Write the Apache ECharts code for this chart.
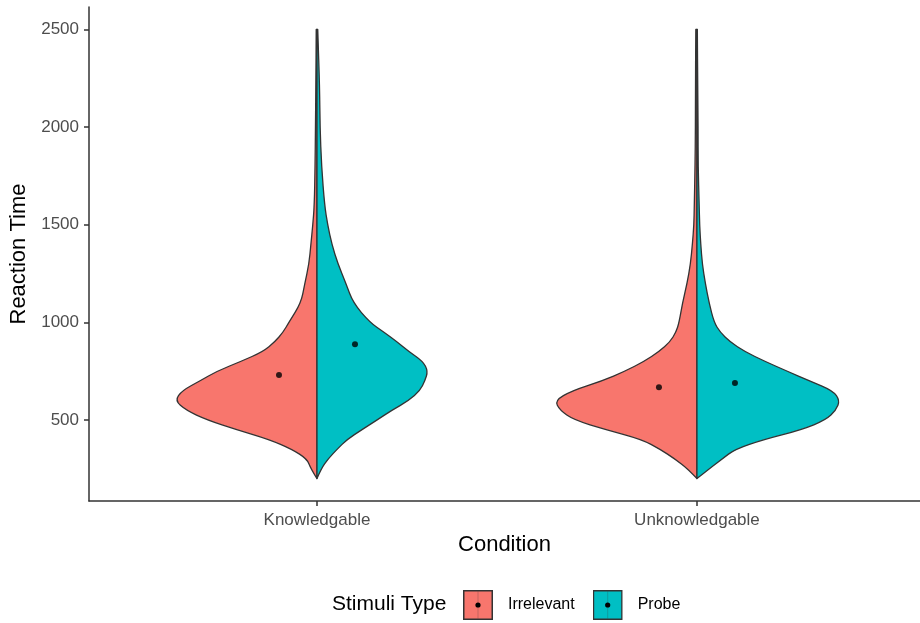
<!DOCTYPE html>
<html><head><meta charset="utf-8">
<script src="https://cdn.jsdelivr.net/npm/echarts@6/dist/echarts.min.js"></script>
<style>html,body{margin:0;padding:0;background:#fff}#c{width:920px;height:623px}</style>
</head><body><div id="c"></div><script>
// ---- data ----
const categories = ['Knowledgable', 'Unknowledgable'];
const stimuli = ['Irrelevant', 'Probe'];
const yTicks = [500, 1000, 1500, 2000, 2500];
// reaction-time grid at which the density half-widths are read
const rtGrid = [200, 250, 300, 350, 400, 450, 500, 550, 600, 650, 700, 750, 800, 850, 900, 950, 1000, 1100, 1200, 1300, 1400, 1500, 1600, 1800, 2000, 2200, 2500];
// half-widths (x-axis units) per condition
const irrelevantKnow = [0, .016, .026, .066, .126, .211, .289, .345, .374, .355, .308, .263, .200, .142, .111, .089, .074, .042, .032, .021, .016, .011, .007, .005, .004, .003, .002];
const irrelevantUnknow = [0, .024, .058, .097, .145, .239, .324, .361, .374, .329, .250, .189, .139, .100, .071, .055, .047, .038, .026, .017, .012, .008, .007, .005, .004, .004, .003];
const probeKnow = [0, .011, .029, .053, .079, .118, .158, .197, .242, .271, .284, .292, .279, .242, .211, .176, .139, .095, .076, .055, .039, .028, .020, .012, .008, .007, .002];
const probeUnknow = [0, .032, .066, .100, .176, .276, .339, .366, .376, .358, .297, .237, .179, .126, .087, .061, .045, .032, .022, .014, .010, .007, .006, .003, .003, .002, .001];
const irrelevantMeans = [730, 668];
const probeMeans = [888, 689];

// ---- rendering ----
const FONT = '"Liberation Sans", Arial, Helvetica, sans-serif';
const RED = '#F8766D', TEAL = '#00BFC4', OUTLINE = '#333333';
const chart = echarts.init(document.getElementById('c'), null, { renderer: 'canvas' });

function violinSeries(name, dens, side, color) {
  return {
    type: 'custom', name: name, coordinateSystem: 'cartesian2d',
    data: categories.map((c, i) => [i + 1, rtGrid[0]]),
    encode: { x: 0, y: 1 },
    itemStyle: { color: color },
    clip: false,
    renderItem: function (params, api) {
      const ci = params.dataIndex;
      const w = dens[ci];
      const cx = ci + 1;
      const pts = rtGrid.map((rt, k) => api.coord([cx + side * w[k], rt]));
      const c0 = api.coord([cx, rtGrid[0]]);
      const c1 = api.coord([cx, rtGrid[rtGrid.length - 1]]);
      let d = 'M' + c0[0] + ',' + c0[1] + ' L' + pts[0][0] + ',' + pts[0][1];
      for (let k = 1; k < pts.length - 1; k++) {
        const mx = (pts[k][0] + pts[k + 1][0]) / 2, my = (pts[k][1] + pts[k + 1][1]) / 2;
        d += ' Q' + pts[k][0] + ',' + pts[k][1] + ' ' + mx + ',' + my;
      }
      const last = pts[pts.length - 1];
      d += ' L' + last[0] + ',' + last[1] + ' L' + c1[0] + ',' + c1[1] + ' Z';
      return { type: 'path', shape: { pathData: d }, style: { fill: color, stroke: OUTLINE, lineWidth: 1.3, lineJoin: 'round' } };
    }
  };
}

function meanSeries(name, means, offset) {
  return {
    type: 'scatter', name: name + ' mean', silent: true, z: 5,
    symbolSize: 6, itemStyle: { color: '#000' },
    data: means.map((m, i) => [i + 1 + offset, m])
  };
}

function keyIcon(color) {
  const svg = '<svg xmlns="http://www.w3.org/2000/svg" width="30" height="30">' +
    '<rect x="0.75" y="0.75" width="28.5" height="28.5" fill="' + color + '" stroke="#333" stroke-width="1.5"/>' +
    '<line x1="15" y1="1.5" x2="15" y2="28.5" stroke="#333" stroke-opacity="0.25" stroke-width="1"/>' +
    '<circle cx="15" cy="15" r="2.6" fill="#000"/></svg>';
  return 'image://data:image/svg+xml;charset=utf-8,' + encodeURIComponent(svg);
}

const axisLineStyle = { color: OUTLINE, width: 1.5 };
chart.setOption({
  animation: false,
  backgroundColor: '#fff',
  textStyle: { fontFamily: FONT },
  grid: { left: 89, right: 0, top: 7, bottom: 122 },
  title: {
    text: 'Stimuli Type', left: 332, top: 594, padding: 0,
    textStyle: { fontSize: 21, fontWeight: 'normal', color: '#000', fontFamily: FONT }
  },
  legend: {
    left: 463, top: 590, padding: 0, itemWidth: 30, itemHeight: 30, itemGap: 18,
    data: [{ name: stimuli[0], icon: keyIcon(RED) }, { name: stimuli[1], icon: keyIcon(TEAL) }],
    textStyle: { fontSize: 16, color: '#000', fontFamily: FONT, padding: [0, 0, 0, 10] }
  },
  xAxis: {
    type: 'value', min: 0.4, max: 2.587,
    name: 'Condition', nameLocation: 'middle', nameGap: 33,
    nameTextStyle: { fontSize: 22, color: '#000', fontFamily: FONT },
    axisLine: { show: true, lineStyle: axisLineStyle },
    axisTick: { show: true, length: 5, customValues: [1, 2], lineStyle: axisLineStyle },
    axisLabel: { customValues: [1, 2], formatter: v => categories[Math.round(v) - 1] || '', fontSize: 17, color: '#4d4d4d', margin: 11, fontFamily: FONT },
    splitLine: { show: false }
  },
  yAxis: {
    type: 'value', min: 85, max: 2615,
    name: 'Reaction Time', nameLocation: 'middle', nameGap: 57, nameRotate: 90,
    nameTextStyle: { fontSize: 22, color: '#000', fontFamily: FONT },
    axisLine: { show: true, lineStyle: axisLineStyle },
    axisTick: { show: true, length: 5, customValues: yTicks, lineStyle: axisLineStyle },
    axisLabel: { customValues: yTicks, formatter: v => String(v), fontSize: 17, color: '#4d4d4d', margin: 10, fontFamily: FONT },
    splitLine: { show: false }
  },
  series: [
    violinSeries(stimuli[0], [irrelevantKnow, irrelevantUnknow], -1, RED),
    violinSeries(stimuli[1], [probeKnow, probeUnknow], 1, TEAL),
    meanSeries(stimuli[0], irrelevantMeans, -0.1),
    meanSeries(stimuli[1], probeMeans, 0.1)
  ]
});
</script></body></html>
